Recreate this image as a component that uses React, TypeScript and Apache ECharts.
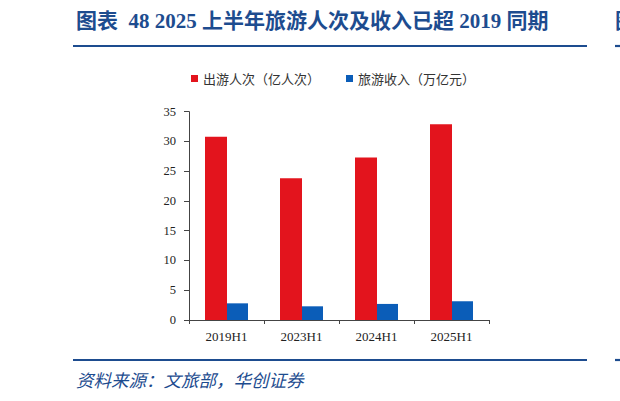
import React, { useEffect, useRef } from 'react';
import * as echarts from 'echarts';

// half-year periods
const periods = ['2019H1', '2023H1', '2024H1', '2025H1'];
// domestic trips, 100 million person-times
const trips = [30.8, 23.8, 27.3, 32.9];
// tourism revenue, trillion yuan
const revenue = [2.8, 2.3, 2.7, 3.15];
const yTicks = { min: 0, max: 35, interval: 5 };

const titleText = '图表  48 2025 上半年旅游人次及收入已超 2019 同期';
const sourceText = '资料来源：文旅部，华创证券';
const legendNames = ['出游人次（亿人次）', '旅游收入（万亿元）'];

const navy = '#1D4C8F';
const serif = '"Liberation Serif", "Noto Sans CJK SC", serif';

const App: React.FC = () => {
  const chartRef = useRef<HTMLDivElement>(null);

  useEffect(() => {
    if (!chartRef.current) return;
    const chart = echarts.init(chartRef.current, undefined, { renderer: 'svg' });

    const option = {
      animation: false,
      backgroundColor: '#ffffff',
      grid: { left: 189, right: 131, top: 111.7, bottom: 81 },
      legend: {
        data: legendNames,
        left: 186,
        top: 67,
        icon: 'rect',
        itemWidth: 7,
        itemHeight: 7,
        itemGap: 26,
        textStyle: { fontFamily: '"Noto Sans CJK SC"', fontSize: 13, color: '#333' },
      },
      xAxis: {
        type: 'category',
        data: periods,
        axisLine: { lineStyle: { color: '#444', width: 1 } },
        axisTick: { show: true, length: 4, lineStyle: { color: '#444' } },
        axisLabel: { fontFamily: serif, fontSize: 13, color: '#222', margin: 10 },
      },
      yAxis: {
        type: 'value',
        ...yTicks,
        splitLine: { show: false },
        axisLine: { show: true, lineStyle: { color: '#444', width: 1 } },
        axisTick: { show: true, length: 5, lineStyle: { color: '#444' } },
        axisLabel: { fontFamily: serif, fontSize: 12.5, color: '#222', margin: 13 },
      },
      series: [
        {
          name: legendNames[0],
          type: 'bar',
          data: trips,
          barWidth: 22,
          barGap: '0%',
          itemStyle: { color: '#E3141D' },
        },
        {
          name: legendNames[1],
          type: 'bar',
          data: revenue,
          barWidth: 21,
          barGap: '0%',
          itemStyle: { color: '#0B5DB8' },
        },
      ],
      graphic: [
        {
          type: 'text',
          left: 76,
          top: 10,
          style: {
            text: titleText,
            fill: navy,
            font: `bold 21px ${serif}`,
          },
        },
        {
          type: 'line',
          shape: { x1: 73, y1: 46, x2: 587, y2: 46 },
          style: { stroke: navy, lineWidth: 2.2 },
        },
        {
          type: 'line',
          shape: { x1: 615, y1: 46, x2: 620, y2: 46 },
          style: { stroke: navy, lineWidth: 2.2 },
        },
        {
          type: 'text',
          left: 615,
          top: 10,
          style: { text: '图', fill: navy, font: `bold 21px ${serif}` },
        },
        {
          type: 'line',
          shape: { x1: 73, y1: 360, x2: 587, y2: 360 },
          style: { stroke: navy, lineWidth: 2.2 },
        },
        {
          type: 'line',
          shape: { x1: 615, y1: 360, x2: 620, y2: 360 },
          style: { stroke: navy, lineWidth: 2.2 },
        },
        {
          type: 'text',
          left: 76,
          top: 371,
          style: {
            text: sourceText,
            fill: navy,
            font: 'italic 17.5px "Noto Sans CJK SC"',
          },
        },
      ],
    };

    chart.setOption(option);
    return () => {
      chart.dispose();
    };
  }, []);

  return (
    <div
      ref={chartRef}
      style={{ position: 'fixed', left: 0, top: 0, width: 620, height: 401 }}
    />
  );
};

export default App;
